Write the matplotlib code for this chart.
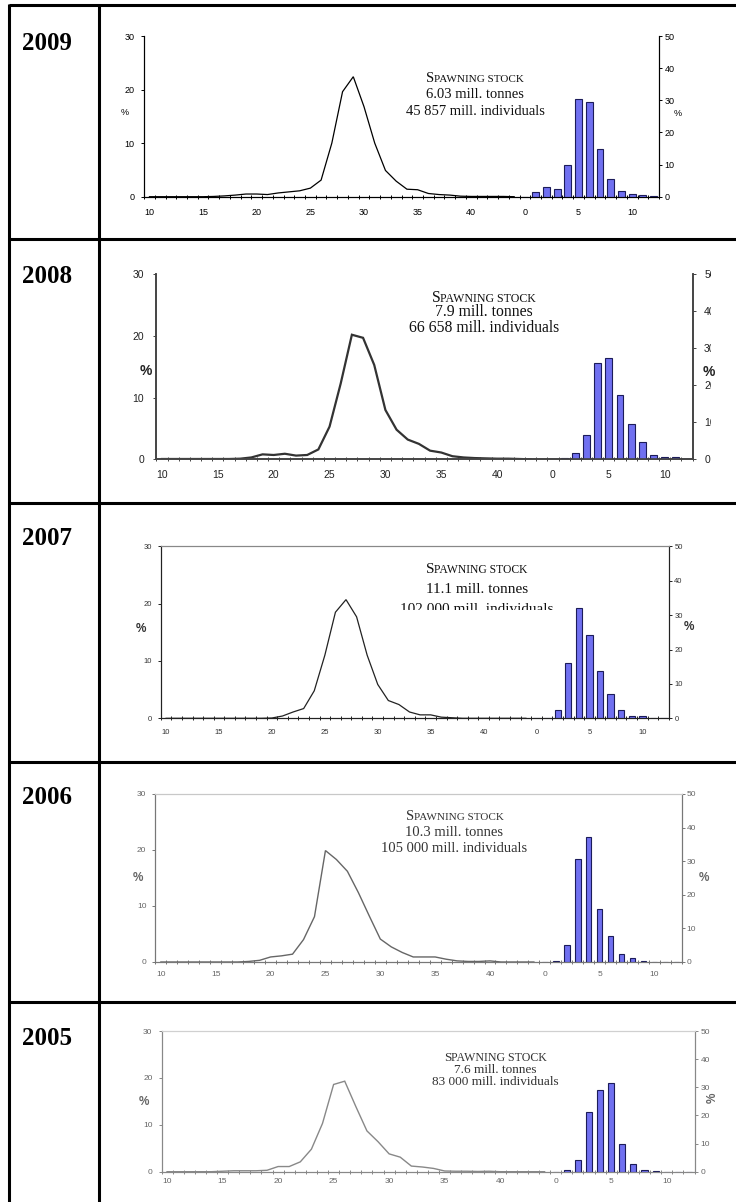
import numpy as np
import matplotlib.pyplot as plt
from matplotlib.transforms import Bbox
from matplotlib.textpath import TextToPath
from matplotlib.font_manager import FontProperties

W, H = 736, 1202
DPI = 100
SERIF = 'Liberation Serif'
SANS = 'Liberation Sans'

# categories: length groups (cm) then age groups (years)
lengths = list(range(10, 45))
ages = list(range(0, 13))
years = ['2009', '2008', '2007', '2006', '2005']
tonnes = ['6.03', '7.9', '11.1', '10.3', '7.6']
individuals = ['45 857', '66 658', '102 000', '105 000', '83 000']

# length distribution, % (left axis)
len_2009 = [0, 0, 0, 0, 0, 0, 0.05, 0.15, 0.3, 0.5, 0.5, 0.4, 0.7, 0.9, 1.1, 1.6, 3.1, 10.0,
            19.6, 22.4, 16.8, 10.0, 4.9, 2.9, 1.4, 1.3, 0.6, 0.4, 0.3, 0.1, 0.05, 0.05, 0.05, 0.05, 0]
len_2008 = [0.05, 0.05, 0.05, 0.05, 0.05, 0.05, 0.05, 0.1, 0.3, 0.8, 0.7, 0.9, 0.6, 0.7, 1.6, 5.3, 12.3, 20.2,
            19.7, 15.3, 8.0, 4.8, 3.2, 2.5, 1.4, 1.1, 0.5, 0.3, 0.2, 0.15, 0.1, 0.1, 0.05, 0, np.nan]
len_2007 = [0, 0, 0, 0, 0, 0, 0, 0, 0, 0, 0.05, 0.4, 1.1, 1.7, 4.8, 11.0, 18.5, 20.7,
            17.7, 11.0, 5.9, 3.1, 2.4, 1.1, 0.6, 0.6, 0.2, 0.1, 0, 0, 0, 0, 0, 0, 0]
len_2006 = [0, 0, 0, 0, 0, 0, 0, 0, 0.1, 0.3, 0.9, 1.1, 1.4, 4.0, 8.1, 19.9, 18.3, 16.2,
            12.4, 8.2, 4.1, 2.7, 1.7, 0.9, 0.9, 0.9, 0.5, 0.2, 0.1, 0.1, 0.2, 0, 0, 0, 0]
len_2005 = [0, 0, 0, 0, 0, 0.1, 0.2, 0.2, 0.2, 0.3, 1.1, 1.1, 2.1, 4.8, 10.3, 18.6, 19.3, 13.9,
            8.7, 6.4, 3.8, 3.1, 1.2, 1.0, 0.7, 0.15, 0.1, 0.1, 0.05, 0.1, 0, 0, 0, 0, 0]

# age distribution, % (right axis)
age_2009 = [0, 1.6, 2.9, 2.5, 10.0, 30.3, 29.5, 14.9, 5.6, 1.9, 0.7, 0.5, 0.2]
age_2008 = [0, 0.45, 1.8, 6.6, 26.1, 27.3, 17.4, 9.5, 4.6, 1.2, 0.7, 0.5, 0.2]
age_2007 = [0, 0, 2.4, 16.0, 32.2, 24.3, 13.7, 7.1, 2.5, 0.8, 0.6, 0, 0]
age_2006 = [0, 0.3, 5.1, 30.8, 37.2, 15.8, 7.7, 2.5, 1.2, 0.3, 0, 0, 0]
age_2005 = [0, 0.6, 4.1, 21.3, 29.0, 31.4, 10.0, 2.6, 0.7, 0.4, 0, 0, 0]

len_series = [len_2009, len_2008, len_2007, len_2006, len_2005]
age_series = [age_2009, age_2008, age_2007, age_2006, age_2005]

# layout / look of each embedded picture (pixels)
looks = [
    dict(box=(144.1, 36.0, 659.0, 196.7), lc='black', lw=0.9, sc='black', top=None, tfs=6.5, tc='black',
         xpad=8.2, lpad=4.5, rpad=1.4, pfs=6.5, pw='normal', pl=(125, 112.7), pr=(678, 113),
         tx=475, ty=(76.7, 93, 110), fs=10.5, bw=0.64, clip=None, rclip=None),
    dict(box=(156.4, 274.3, 692.6, 459.3), lc='#333333', lw=1.6, sc='#444444', top=None, tfs=7.5, tc='#222222',
         xpad=7.5, lpad=6.3, rpad=5.8, pfs=10, pw='bold', pl=(145.6, 370.7), pr=(708.5, 371.7),
         tx=484, ty=(296.7, 311.3, 326.7), fs=11.3, bw=0.62, clip=None, rclip=711),
    dict(box=(160.8, 546.3, 668.8, 718.3), lc='#222222', lw=0.9, sc='#222222', top='#888888', tfs=5.5, tc='#333333',
         xpad=8.0, lpad=3.6, rpad=1.5, pfs=8.5, pw='bold', pl=(140.6, 629), pr=(688.5, 626.7),
         tx=477, ty=(568, 588, 607.5), fs=11, bw=0.6, clip=609.5, rclip=None),
    dict(box=(155.4, 794.0, 682.0, 962.0), lc='#666666', lw=1.0, sc='#777777', top='#c8c8c8', tfs=6, tc='#666666',
         xpad=6.5, lpad=4.0, rpad=0.8, pfs=8.5, pw='bold', pl=(137.6, 878), pr=(704, 878),
         tx=454.4, ty=(815, 831, 846.7), fs=10.5, bw=0.5, clip=None, rclip=None),
    dict(box=(161.5, 1031.0, 694.5, 1171.7), lc='#888888', lw=1.0, sc='#888888', top='#d0d0d0', tfs=6, tc='#666666',
         xpad=4.3, lpad=4.0, rpad=1.8, pfs=8.5, pw='bold', pl=(143.6, 1101.7), pr=(713, 1098),
         tx=495.5, ty=(1056.7, 1068.3, 1081), fs=9.5, bw=0.55, clip=None, rclip=716),
]

row_lines = [4.5, 238.7, 503, 762, 1002]
year_base = [50, 283, 545, 804, 1045]

t2p = TextToPath()


def text_width(s, fp):
    return t2p.get_text_width_height_descent(s, fp, ismath=False)[0] * DPI / 72


def draw_panel(fig, lv, av, lk):
    l, t, r, b = lk['box']
    ax = fig.add_axes([l / W, 1 - b / H, (r - l) / W, (b - t) / H])
    ax2 = ax.twinx()
    n = len(lengths) + len(ages)
    ax.plot(np.arange(len(lengths)), lv, color=lk['lc'], lw=lk['lw'], solid_joinstyle='miter')
    ax2.bar(np.arange(len(ages)) + len(lengths), av, width=lk['bw'],
            color='#7070f0', edgecolor='#1c1c5a', linewidth=0.8)
    ax.set_xlim(-0.5, n - 0.5)
    ax.set_ylim(0, 30)
    ax2.set_ylim(0, 50)

    cats = [str(v) for v in lengths + ages]
    ax.set_xticks(np.arange(0, n, 5))
    ax.set_xticklabels(cats[::5])
    ax.set_xticks(np.arange(n + 1) - 0.5, minor=True)
    ax.tick_params(axis='x', which='major', length=0, pad=lk['xpad'], labelsize=lk['tfs'], labelcolor=lk['tc'])
    ax.tick_params(axis='x', which='minor', length=3.5, width=0.7, direction='inout', color=lk['sc'])
    ax.set_yticks([0, 10, 20, 30])
    ax.tick_params(axis='y', length=2.5, width=0.7, pad=lk['lpad'], labelsize=lk['tfs'],
                   labelcolor=lk['tc'], color=lk['sc'])
    ax2.set_yticks([0, 10, 20, 30, 40, 50])
    ax2.tick_params(axis='y', length=2.5, width=0.7, pad=lk['rpad'], labelsize=lk['tfs'],
                    labelcolor=lk['tc'], color=lk['sc'])
    for lab in ax.get_xticklabels() + ax.get_yticklabels() + ax2.get_yticklabels():
        lab.set_family(SANS)

    for a in (ax, ax2):
        for side in ('left', 'right', 'bottom'):
            a.spines[side].set_color(lk['sc'])
            a.spines[side].set_linewidth(1.2 if lk['lw'] > 1.2 else 0.8)
        if lk['top']:
            a.spines['top'].set_color(lk['top'])
            a.spines['top'].set_linewidth(0.8)
        else:
            a.spines['top'].set_visible(False)

    if lk['rclip']:
        box = Bbox.from_extents(0, 0, lk['rclip'], H)
        for tk in ax2.yaxis.get_major_ticks():
            tk.label2.set_clip_on(True)
            tk.label2.set_clip_box(box)
    return ax, ax2


fig = plt.figure(figsize=(W / DPI, H / DPI), dpi=DPI)

for i, yr in enumerate(years):
    draw_panel(fig, len_series[i], age_series[i], looks[i])

page = fig.add_axes([0, 0, 1, 1])
page.set_xlim(0, W)
page.set_ylim(H, 0)
page.axis('off')
page.set_zorder(10)

# table grid
for y in row_lines:
    page.plot([8.5, W], [y, y], color='black', lw=2.2, solid_capstyle='butt')
for x in (8.5, 99):
    page.plot([x, x], [row_lines[0] - 1, H], color='black', lw=2.2, solid_capstyle='butt')

for i, yr in enumerate(years):
    lk = looks[i]
    page.text(22, year_base[i], yr, family=SERIF, weight='bold', size=18, ha='left', va='baseline')

    # % labels
    page.text(lk['pl'][0], lk['pl'][1], '%', family=SANS, size=lk['pfs'], weight=lk['pw'],
              color=lk['tc'], ha='center', va='center')
    if i == 4:
        rt = page.text(lk['pr'][0], lk['pr'][1], '%', family=SANS, size=lk['pfs'], weight=lk['pw'],
                       color=lk['tc'], ha='center', va='center', rotation=90)
        rt.set_clip_on(True)
        rt.set_clip_box(Bbox.from_extents(0, 0, 716, H))
    else:
        page.text(lk['pr'][0], lk['pr'][1], '%', family=SANS, size=lk['pfs'], weight=lk['pw'],
                  color=lk['tc'], ha='center', va='center')

    # spawning stock note
    fs = lk['fs']
    tcol = '#111111' if i < 3 else '#333333'
    shift = 0.33 * fs * DPI / 72
    fp_big = FontProperties(family=SERIF, size=fs)
    fp_small = FontProperties(family=SERIF, size=fs * (0.76 if i < 4 else 0.9))
    wb = text_width('S', fp_big)
    ws = text_width('PAWNING STOCK', fp_small)
    x0 = lk['tx'] - (wb + ws) / 2
    y1 = lk['ty'][0] + shift
    page.text(x0, y1, 'S', fontproperties=fp_big, color=tcol, ha='left', va='baseline')
    page.text(x0 + wb, y1, 'PAWNING STOCK', fontproperties=fp_small, color=tcol, ha='left', va='baseline')
    page.text(lk['tx'], lk['ty'][1] + shift, tonnes[i] + ' mill. tonnes', family=SERIF, size=fs,
              color=tcol, ha='center', va='baseline')
    t3 = page.text(lk['tx'], lk['ty'][2] + shift, individuals[i] + ' mill. individuals', family=SERIF, size=fs,
                   color=tcol, ha='center', va='baseline')
    if lk['clip']:
        t3.set_clip_on(True)
        t3.set_clip_box(Bbox.from_extents(0, H - lk['clip'], W, H))

fig.savefig('out.png', dpi=DPI)
